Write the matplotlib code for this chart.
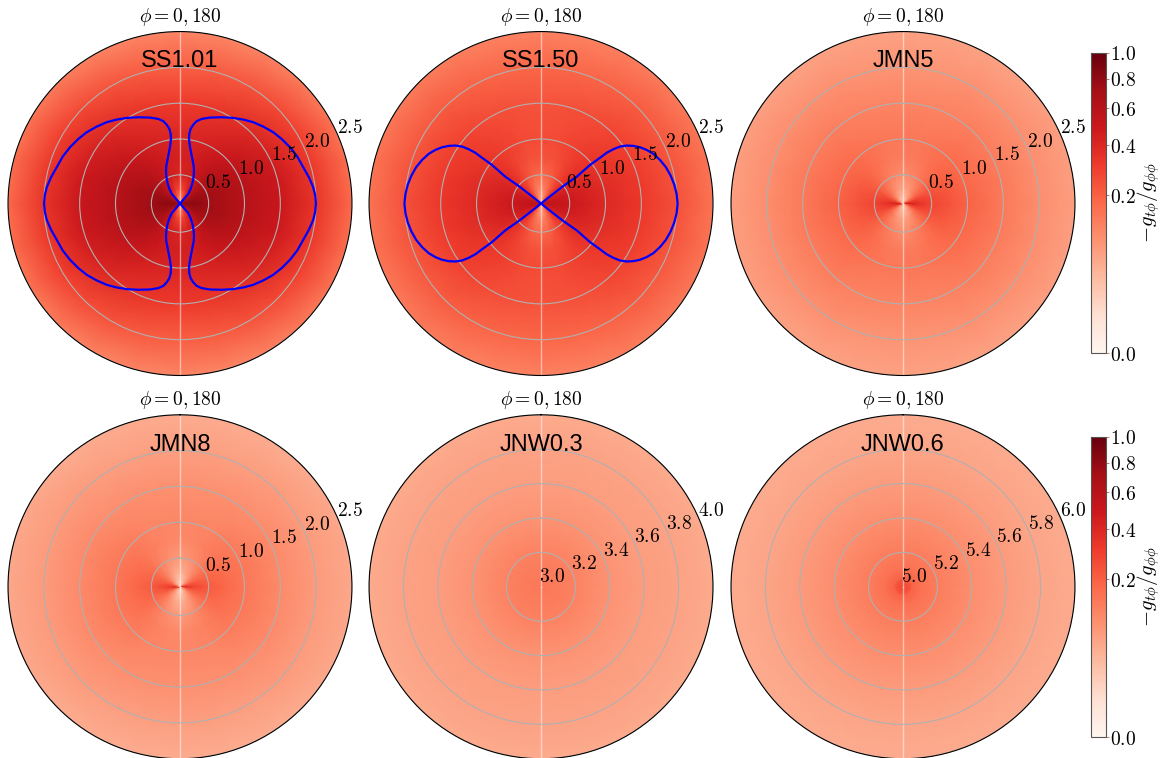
#!/usr/bin/env python3
# -*- coding: utf-8 -*-

import matplotlib
matplotlib.use("Agg")
import matplotlib.pyplot as plt
import numpy as np
from matplotlib.colors import PowerNorm

plt.rcParams['mathtext.fontset'] = 'cm'

# polar angle nodes of one quadrant (deg from the spin axis)
theta_nodes = [0, 15, 30, 45, 60, 75, 90]

# radial nodes
r_in = [0.1, 0.2, 0.3, 0.5, 0.75, 1.0, 1.5, 2.0, 2.5]
r_jnw03 = [3.0, 3.2, 3.4, 3.6, 3.8, 4.0]
r_jnw06 = [5.0, 5.05, 5.1, 5.2, 5.4, 5.6, 5.8, 6.0]

# -g_tphi/g_phiphi, rows = r_in, cols = theta_nodes
w_ss101 = [[0.101, 0.136, 0.279, 0.487, 0.666, 0.768, 0.768],
           [0.136, 0.177, 0.303, 0.504, 0.686, 0.768, 0.812],
           [0.256, 0.303, 0.410, 0.572, 0.706, 0.768, 0.812],
           [0.410, 0.440, 0.504, 0.609, 0.686, 0.726, 0.726],
           [0.440, 0.455, 0.504, 0.572, 0.628, 0.666, 0.666],
           [0.410, 0.425, 0.455, 0.504, 0.572, 0.609, 0.609],
           [0.315, 0.328, 0.354, 0.397, 0.440, 0.487, 0.504],
           [0.204, 0.214, 0.235, 0.267, 0.303, 0.328, 0.341],
           [0.114, 0.114, 0.121, 0.136, 0.151, 0.168, 0.177]]

w_ss150 = [[0.058, 0.078, 0.136, 0.256, 0.410, 0.504, 0.537],
           [0.063, 0.089, 0.160, 0.303, 0.440, 0.520, 0.555],
           [0.101, 0.128, 0.205, 0.328, 0.440, 0.504, 0.537],
           [0.177, 0.195, 0.256, 0.341, 0.425, 0.471, 0.487],
           [0.235, 0.245, 0.279, 0.341, 0.396, 0.425, 0.440],
           [0.256, 0.267, 0.291, 0.328, 0.354, 0.381, 0.396],
           [0.235, 0.245, 0.256, 0.279, 0.303, 0.315, 0.328],
           [0.186, 0.186, 0.195, 0.214, 0.224, 0.235, 0.245],
           [0.121, 0.121, 0.128, 0.136, 0.144, 0.151, 0.151]]

w_jmn5 = [[0.018, 0.023, 0.031, 0.049, 0.101, 0.224, 0.537],
          [0.031, 0.038, 0.054, 0.083, 0.151, 0.279, 0.440],
          [0.058, 0.067, 0.089, 0.128, 0.195, 0.291, 0.367],
          [0.095, 0.108, 0.128, 0.168, 0.214, 0.256, 0.279],
          [0.128, 0.136, 0.151, 0.177, 0.205, 0.224, 0.235],
          [0.144, 0.144, 0.151, 0.168, 0.177, 0.186, 0.195],
          [0.114, 0.114, 0.121, 0.128, 0.128, 0.136, 0.136],
          [0.083, 0.083, 0.089, 0.089, 0.095, 0.095, 0.095],
          [0.063, 0.063, 0.063, 0.063, 0.067, 0.067, 0.067]]

w_jmn8 = [[0.012, 0.016, 0.023, 0.038, 0.078, 0.177, 0.440],
          [0.023, 0.028, 0.042, 0.067, 0.121, 0.224, 0.354],
          [0.042, 0.049, 0.067, 0.101, 0.151, 0.224, 0.279],
          [0.072, 0.083, 0.101, 0.128, 0.168, 0.195, 0.214],
          [0.101, 0.108, 0.121, 0.136, 0.160, 0.168, 0.177],
          [0.108, 0.108, 0.114, 0.128, 0.136, 0.144, 0.144],
          [0.089, 0.089, 0.095, 0.095, 0.101, 0.101, 0.101],
          [0.067, 0.067, 0.067, 0.072, 0.072, 0.072, 0.072],
          [0.049, 0.049, 0.049, 0.049, 0.054, 0.054, 0.054]]

# JNW maps are practically round: radial profiles only
w_jnw03 = [0.147, 0.117, 0.086, 0.069, 0.060, 0.051]
w_jnw06 = [0.303, 0.195, 0.160, 0.128, 0.095, 0.072, 0.058, 0.049]

# ergosurface, one quadrant as (theta deg, r)
ergo_ss101 = [(45, 0.1), (40.9, 0.192), (40.7, 0.278), (35.1, 0.367), (30.7, 0.446),
              (26.6, 0.526), (23.0, 0.600), (19.8, 0.663), (16.4, 0.725), (13.7, 0.789),
              (11.4, 0.854), (9.3, 0.934), (7.9, 1.011), (7.6, 1.080), (8.1, 1.152),
              (9.6, 1.217), (11.4, 1.272), (14.4, 1.319), (19.2, 1.370), (25.8, 1.437),
              (31.9, 1.507), (37.0, 1.567), (42.0, 1.627), (47.3, 1.682), (52.6, 1.738),
              (57.5, 1.780), (62.9, 1.824), (68.2, 1.863), (73.6, 1.893), (78.5, 1.936),
              (83.0, 1.973), (86.6, 1.991), (90.0, 1.997)]
ergo_ss150 = [(52, 0.1), (51.5, 0.291), (51.9, 0.495), (53.1, 0.722), (51.8, 0.969),
              (52.2, 1.140), (52.3, 1.257), (53.1, 1.362), (54.2, 1.459), (55.9, 1.543),
              (58.0, 1.618), (60.4, 1.689), (63.1, 1.753), (66.1, 1.813), (69.9, 1.868),
              (73.8, 1.915), (77.8, 1.950), (81.9, 1.978), (85.9, 1.997), (90.0, 2.006)]

names = ['SS1.01', 'SS1.50', 'JMN5', 'JMN8', 'JNW0.3', 'JNW0.6']
r_nodes = [r_in, r_in, r_in, r_in, r_jnw03, r_jnw06]
maps = [w_ss101, w_ss150, w_jmn5, w_jmn8, w_jnw03, w_jnw06]
ergos = [ergo_ss101, ergo_ss150, None, None, None, None]
rlims = [(0.1, 2.5)] * 4 + [(3.0, 4.0), (5.0, 6.0)]
rticks = [[0.5, 1.0, 1.5, 2.0, 2.5]] * 4 + [[3.0, 3.2, 3.4, 3.6, 3.8, 4.0],
                                           [5.0, 5.2, 5.4, 5.6, 5.8, 6.0]]
cb_ticks = [0.0, 0.2, 0.4, 0.6, 0.8, 1.0]


def full_ring(q):
    # mirror a 0..90 quadrant onto 0..360
    q = list(q)
    return q + q[5::-1] + q[1:] + q[5::-1]


norm = PowerNorm(gamma=0.4, vmin=0, vmax=1)
cmap = plt.get_cmap('Reds')
ang = np.deg2rad(np.arange(0, 375, 15))
lab_ang = np.deg2rad(67.5)

fig = plt.figure(figsize=(11.62, 7.58), dpi=100)
lefts = [0.0069, 0.3176, 0.6291]
bottoms = [0.5046, -0.001]

for i, name in enumerate(names):
    row, col = divmod(i, 3)
    ax = fig.add_axes([lefts[col], bottoms[row], 0.296, 0.4538], projection='polar')
    ax.set_theta_zero_location('N')
    ax.set_theta_direction(-1)

    r = np.array(r_nodes[i])
    w = maps[i]
    if np.ndim(w) == 2:
        C = np.array([full_ring(row_) for row_ in w])
    else:
        C = np.repeat(np.array(w)[:, None], len(ang), axis=1)
    T, R = np.meshgrid(ang, r)
    ax.set_facecolor(cmap(norm(C[-1].mean())))
    mesh = ax.pcolormesh(T, R, C, cmap=cmap, norm=norm, shading='gouraud')

    e = ergos[i]
    if e is not None:
        th = [p[0] for p in e]
        rr = [p[1] for p in e]
        lobe_t = th + [180 - t for t in th[::-1]]
        lobe_r = rr + rr[::-1]
        ax.plot(np.deg2rad(lobe_t), lobe_r, color='blue', lw=1.6)
        ax.plot(-np.deg2rad(lobe_t), lobe_r, color='blue', lw=1.6)

    ax.set_rlim(*rlims[i])
    ax.set_rticks(rticks[i])
    ax.set_yticklabels([])
    # radial labels sit up-right of their circle, old-matplotlib style
    for t in rticks[i]:
        ax.annotate('$%.1f$' % t, xy=(lab_ang, t), xytext=(8, 7.5),
                    textcoords='offset points', ha='center', va='center',
                    fontsize=14, annotation_clip=False)
    ax.set_thetagrids([0, 180], labels=[r'$\phi=0,180$', ''], fontsize=14)
    ax.tick_params(axis='x', pad=0)
    ax.xaxis.grid(True, color='white', alpha=0.5, lw=1.0)
    ax.yaxis.grid(True, color='#b0b0b0', lw=0.8)
    ax.spines['polar'].set_linewidth(0.8)
    ax.text(0.5, 0.913, name, transform=ax.transAxes, ha='center', va='center',
            fontsize=17, family='Liberation Sans')

    if col == 2:
        cax = fig.add_axes([0.9389, [0.5343, 0.0277][row], 0.0127, 0.3958])
        cb = fig.colorbar(mesh, cax=cax)
        cb.set_ticks(cb_ticks)
        cb.set_ticklabels(['$%.1f$' % t for t in cb_ticks])
        cb.ax.tick_params(labelsize=14, length=2, width=0.5, color='#c0392b', pad=1)
        cb.outline.set_edgecolor('#555555')
        cb.outline.set_linewidth(0.8)
        cb.set_label(r'$-g_{t\phi}/g_{\phi\phi}$', fontsize=15, labelpad=-1)

fig.savefig('out.png', dpi=100)
